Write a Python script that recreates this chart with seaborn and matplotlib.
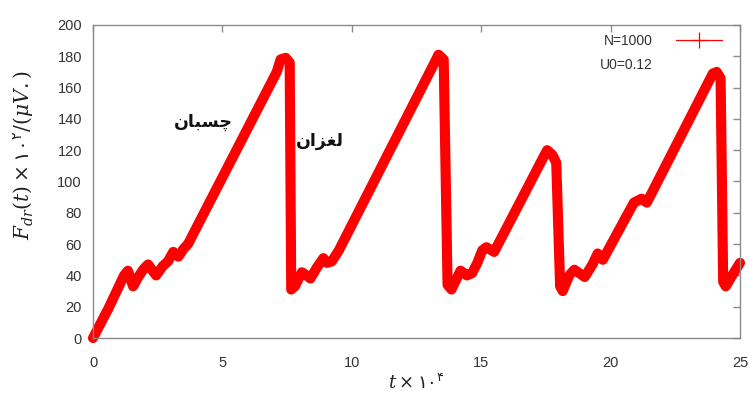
import matplotlib
matplotlib.use("Agg")
import matplotlib.pyplot as plt
from matplotlib.lines import Line2D
import pandas as pd
import seaborn as sns

# Driving force F_dr(t) over time for the stick-slip run
t_e4 = [0.0, 0.6, 1.2, 1.35, 1.55, 1.75, 1.95, 2.13, 2.3, 2.44, 2.7, 2.9, 3.1, 3.3, 3.5, 3.67,
        7.1, 7.25, 7.45, 7.6, 7.66, 7.8, 8.07, 8.25, 8.4, 8.65, 8.9, 9.05, 9.23, 9.5,
        13.2, 13.35, 13.55, 13.7, 13.85, 14.2, 14.45, 14.65, 14.85, 15.04, 15.2, 15.5,
        17.45, 17.55, 17.75, 17.9, 18.05, 18.15, 18.4, 18.6, 19.0, 19.3, 19.5, 19.7,
        20.9, 21.2, 21.4,
        23.95, 24.1, 24.25, 24.35, 24.45, 24.7, 25.0]
f_dr = [0, 19, 40, 43, 33, 39, 44, 47, 43, 40, 46, 49, 55, 52, 57, 60,
        170, 178, 179, 176, 31, 33, 42, 40, 38, 45, 51, 48, 49, 56,
        176, 181, 178, 34, 31, 43, 40, 41.5, 48, 56, 58, 55,
        117, 120, 117, 112, 33, 30, 40, 43.6, 39, 47, 54, 50,
        86.5, 89, 86.5,
        169, 170, 166, 36, 33, 40, 48]

x_ticks = [0, 5, 10, 15, 20, 25]
y_ticks = [0, 20, 40, 60, 80, 100, 120, 140, 160, 180, 200]
legend_labels = ["N=1000", "U0=0.12"]
phase_labels = ["چسبان", "لغزان"]          # stick, slip
phase_pos = [(4.25, 138), (8.75, 126)]

# Contextual forms for the Persian letters used (isolated, final, initial, medial)
FORMS = {
    "چ": ("\uFB7A", "\uFB7B", "\uFB7C", "\uFB7D"),
    "س": ("\uFEB1", "\uFEB2", "\uFEB3", "\uFEB4"),
    "ب": ("\uFE8F", "\uFE90", "\uFE91", "\uFE92"),
    "ا": ("\uFE8D", "\uFE8E", None, None),
    "ن": ("\uFEE5", "\uFEE6", "\uFEE7", "\uFEE8"),
    "ل": ("\uFEDD", "\uFEDE", "\uFEDF", "\uFEE0"),
    "غ": ("\uFECD", "\uFECE", "\uFECF", "\uFED0"),
    "ز": ("\uFEAF", "\uFEB0", None, None),
}


def shape_persian(word):
    """Join letters and put them in visual (left-to-right) order."""
    out = []
    n = len(word)
    for i, ch in enumerate(word):
        iso, fin, ini, med = FORMS[ch]
        prev_joins = i > 0 and FORMS[word[i - 1]][2] is not None
        next_joins = i < n - 1 and ini is not None
        if prev_joins and next_joins:
            out.append(med)
        elif prev_joins:
            out.append(fin)
        elif next_joins:
            out.append(ini)
        else:
            out.append(iso)
    return "".join(reversed(out))


sns.set_theme(style="white")
plt.rcParams["font.family"] = ["Liberation Sans", "DejaVu Sans"]
plt.rcParams["mathtext.fontset"] = "custom"
plt.rcParams["mathtext.it"] = "DejaVu Serif:italic"
plt.rcParams["mathtext.rm"] = "DejaVu Serif"
plt.rcParams["mathtext.sf"] = "DejaVu Sans"

df = pd.DataFrame({"t": t_e4, "F": f_dr})

fig = plt.figure(figsize=(7.49, 3.96), dpi=100)
ax = fig.add_axes([93 / 749, 1 - 338 / 396, (740 - 93) / 749, (338 - 25) / 396])

sns.lineplot(data=df, x="t", y="F", ax=ax, color="#ff0000", linewidth=7.3,
             sort=False, estimator=None, clip_on=False, legend=False,
             solid_joinstyle="round", solid_capstyle="round")

ax.set_xlim(0, 25)
ax.set_ylim(0, 200)
ax.set_xticks(x_ticks)
ax.set_yticks(y_ticks)

frame_col = "#8a8a8a"
for side in ax.spines.values():
    side.set_color(frame_col)
    side.set_linewidth(1.0)
ax.tick_params(axis="both", direction="in", length=5, width=1, color=frame_col,
               top=True, right=True, labelcolor="#333333", labelsize=10.5)
ax.tick_params(axis="x", pad=13)
ax.tick_params(axis="y", pad=8)

ax.set_xlabel(r"$t\times\mathsf{۱۰}^{\mathsf{۴}}$", fontsize=13, color="#222222")
ax.set_ylabel(r"$F_{dr}(t)\times\mathsf{۱۰}^{\mathsf{۲}}/(\mu V.)$",
              fontsize=14.5, color="#222222")
ax.xaxis.set_label_coords(0.5, -0.115)
ax.yaxis.set_label_coords(-0.088, 0.585)

for word, (px, py) in zip(phase_labels, phase_pos):
    ax.text(px, py, shape_persian(word), fontsize=12.5, fontweight="bold",
            family=["DejaVu Sans"], color="#111111", ha="center", va="center")

handles = [Line2D([], [], color="#ff0000", lw=0.9, marker="+", markersize=11,
                  markeredgewidth=0.9),
           Line2D([], [], linestyle="none")]
ax.legend(handles, legend_labels, loc="upper right", bbox_to_anchor=(0.972, 0.972),
          frameon=False, markerfirst=False, handlelength=3.3, handletextpad=1.7,
          labelspacing=0.75, fontsize=10, labelcolor="#333333",
          borderaxespad=0, borderpad=0)

fig.savefig("out.png", dpi=100)
